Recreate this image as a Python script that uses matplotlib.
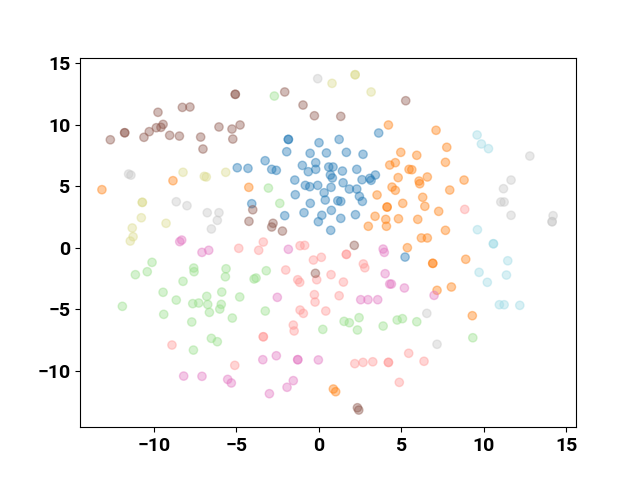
import matplotlib
matplotlib.use("Agg")
import matplotlib.pyplot as plt
import numpy as np

plt.rcParams['font.family'] = ['Roboto', 'DejaVu Sans']
plt.rcParams['font.weight'] = 'bold'
plt.rcParams['font.size'] = 14

# class 0 (blue)
x0 = [-4.95, -4.3, -1.85, -1.85, 1.23, 0.01, 3.63, -1.95, -0.53, 0.46, 1.67, 2.68, -3.26, -2.86, -2.58,
      -1.0, -0.19, -0.64, -0.19, 0.6, 0.86, 0.7, 1.43, 2.3, 3.43, -1.46, 3.09, 0.82, -0.82, -0.55, -0.07,
      0.74, 1.47, 1.85, 2.3, 2.62, 3.17, 2.46, 2.64, 0.32, -1.43, -0.52, 0.39, 1.15, 1.33, 0.76, -0.9,
      0.18, -2.07, -0.03, 1.33, 2.22, 0.72, -4.07, 5.23]
y0 = [6.5, 6.45, 8.8, 8.8, 8.8, 8.53, 9.32, 7.8, 7.67, 7.7, 7.75, 7.59, 7.07, 6.37, 6.29,
      6.69, 6.91, 6.18, 6.37, 6.56, 6.56, 5.91, 6.23, 6.37, 5.91, 5.5, 5.64, 5.67, 5.07, 4.96, 5.07,
      4.91, 5.28, 4.77, 4.77, 5.53, 5.48, 4.18, 3.77, 4.47, 4.31, 3.61, 3.88, 3.82, 3.77, 3.04, 2.85,
      2.64, 2.61, 2.12, 2.39, 2.69, 1.42, 3.58, -0.75]
# class 1 (orange)
x1 = [-13.16, -8.85, -4.25, 4.22, 4.97, 4.3, 4.64, 5.47, 4.81, 7.11, 7.76, 5.94, 7.68, 5.64, 6.58, 6.08,
      8.81, 6.12, 7.94, 6.3, 6.43, 7.27, 6.0, 7.68, 6.22, 6.58, 5.37, 6.91, 6.91, 8.91, 7.17, 8.04, 9.31,
      0.88, 1.02, 3.53, 4.44, 4.64, 4.14, 4.14, 3.41, 4.06, 4.1, 3.0, 4.83, 5.09]
y1 = [4.72, 5.45, 4.91, 9.97, 7.75, 6.72, 6.91, 6.37, 5.7, 9.54, 8.16, 7.51, 6.94, 6.34, 5.75, 5.42,
      5.5, 5.2, 4.69, 4.1, 3.37, 2.96, 2.31, 1.42, 0.8, 0.8, 0.01, -1.26, -1.26, -0.93, -3.45, -3.18, -5.51,
      -11.46, -11.68, 4.29, 4.93, 4.67, 3.31, 3.31, 2.56, 2.31, 1.75, 1.75, 2.36, 3.61]
# class 2 (light green)
x2 = [-2.7, -3.06, -2.37, -10.12, -11.13, -10.41, -7.59, -7.57, -5.63, -5.67, -8.24, -9.45, -8.65, -6.8,
      -5.89, -4.8, -11.92, -9.41, -7.65, -7.29, -6.74, -6.64, -6.01, -5.92, -7.71, -5.25, -6.52, -6.16,
      -7.61, -3.19, -3.93, -3.81, -3.25, 0.24, 1.53, 1.85, 2.44, 2.34, 3.9, 4.75, 5.07, 5.94, 9.34]
y2 = [12.32, 4.85, 3.61, -1.18, -2.18, -1.94, -1.64, -1.94, -1.7, -2.35, -2.72, -3.61, -4.24, -3.94,
      -3.59, -3.99, -4.75, -5.4, -4.53, -4.48, -4.6, -5.24, -4.97, -4.59, -6.02, -5.7, -7.35, -7.62,
      -8.3, -1.86, -2.53, -2.45, -5.13, -6.62, -5.97, -6.08, -5.67, -6.67, -6.35, -5.86, -5.75, -6.0, -7.3]
# class 3 (light red)
x3 = [8.85, -4.86, -3.37, -3.65, -1.14, -0.86, -0.33, 0.15, 1.67, 1.67, 2.7, 2.79, -0.13, -2.01, -1.28,
      -1.16, 0.74, 1.49, -0.27, -0.23, 1.23, -1.14, -0.94, 0.42, -1.55, -1.5, -3.37, -3.37, 5.45, 6.38,
      2.18, 2.68, 3.27, 4.22, 4.22, 4.88, -8.91, -5.1]
y3 = [3.12, -0.04, 0.47, -0.2, 0.17, 0.2, -0.99, -0.77, -0.53, -0.53, -1.31, -1.62, -2.59, -1.8, -2.59,
      -2.8, -2.18, -2.78, -3.8, -4.4, -3.89, -5.05, -5.32, -5.13, -6.27, -6.75, -7.22, -7.22, -8.56, -9.21,
      -9.4, -9.3, -9.25, -9.3, -9.3, -10.92, -7.89, -9.54]
# class 4 (brown)
x4 = [-5.07, -5.07, -12.65, -11.78, -11.78, -10.61, -10.29, -9.86, -9.58, -9.45, -9.76, -8.28, -7.82,
      -9.05, -8.46, -7.17, -7.03, -6.06, -5.27, -4.78, -5.22, -2.07, -0.96, -0.27, 1.33, 5.27, -4.01,
      -4.24, -2.78, -2.86, -2.21, 2.15, -0.21, 2.34, 2.42]
y4 = [12.46, 12.46, 8.77, 9.34, 9.34, 8.97, 9.43, 9.75, 9.78, 10.02, 11.0, 11.4, 11.43,
      9.13, 9.07, 8.99, 8.02, 9.81, 9.64, 9.97, 8.83, 12.65, 11.59, 10.72, 10.67, 11.94, 3.09,
      2.15, 1.99, 1.69, 1.36, 0.2, -2.07, -12.98, -13.17]
# class 5 (pink)
x5 = [-8.44, -8.32, -7.09, -6.68, -1.85, 3.9, 3.97, -2.52, 2.54, 2.98, 3.57, 4.02, 4.3, 4.4, 5.19, 6.99,
      -3.4, -2.58, -1.28, -1.28, -0.03, -1.55, -1.93, -3.0, -8.2, -7.09, -5.53, -5.31]
y5 = [0.5, 0.63, -0.37, -0.2, -0.12, -0.1, -0.37, -4.02, -4.21, -4.21, -4.21, -2.1, -2.94, -2.94, -3.26, -3.86,
      -9.08, -8.76, -9.08, -9.08, -9.1, -10.78, -11.32, -11.84, -10.41, -10.43, -10.68, -10.97]
# class 6 (light grey)
x6 = [-11.54, -11.4, -0.07, 12.8, 11.66, 11.2, 11.04, 11.24, 11.66, 14.21, 14.15, 14.15, -8.65, -8.0,
      -6.77, -6.06, -6.16, -6.52, 6.55, 7.17]
y6 = [5.99, 5.9, 13.73, 7.45, 5.5, 4.8, 3.72, 3.72, 2.64, 2.61, 2.12, 2.12, 3.74, 3.42,
      2.85, 2.85, 2.23, 1.53, -5.32, -7.83]
# class 7 (olive)
x7 = [-8.24, -6.95, -6.83, -5.65, 0.8, 2.2, 2.2, 3.17, -10.71, -10.71, -10.77, -9.27, -11.32, -11.27, -11.44]
y7 = [6.13, 5.8, 5.75, 6.13, 13.35, 14.05, 14.05, 12.65, 3.69, 3.69, 2.44, 1.99, 1.61, 0.9, 0.55]
# class 8 (light cyan)
x8 = [9.6, 9.86, 10.29, 9.62, 10.59, 10.59, 11.46, 9.72, 11.38, 10.22, 10.95, 11.24, 12.19]
y8 = [9.16, 8.43, 8.05, 1.47, 0.33, 0.33, -1.05, -1.99, -2.21, -2.8, -4.62, -4.62, -4.67]

xs = [x0, x1, x2, x3, x4, x5, x6, x7, x8]
ys = [y0, y1, y2, y3, y4, y5, y6, y7, y8]
x = np.concatenate([np.array(a) for a in xs])
y = np.concatenate([np.array(a) for a in ys])
labels = np.concatenate([np.full(len(a), i) for i, a in enumerate(xs)])

fig, ax = plt.subplots(figsize=(6.4, 4.8), dpi=100)
ax.scatter(x, y, c=labels, cmap='tab20', alpha=0.4)
ax.set_xlim(-14.49, 15.6)
ax.set_ylim(-14.56, 15.44)
ax.set_xticks([-10, -5, 0, 5, 10, 15])
ax.set_yticks([-10, -5, 0, 5, 10, 15])
fig.savefig("out.png", dpi=100)
